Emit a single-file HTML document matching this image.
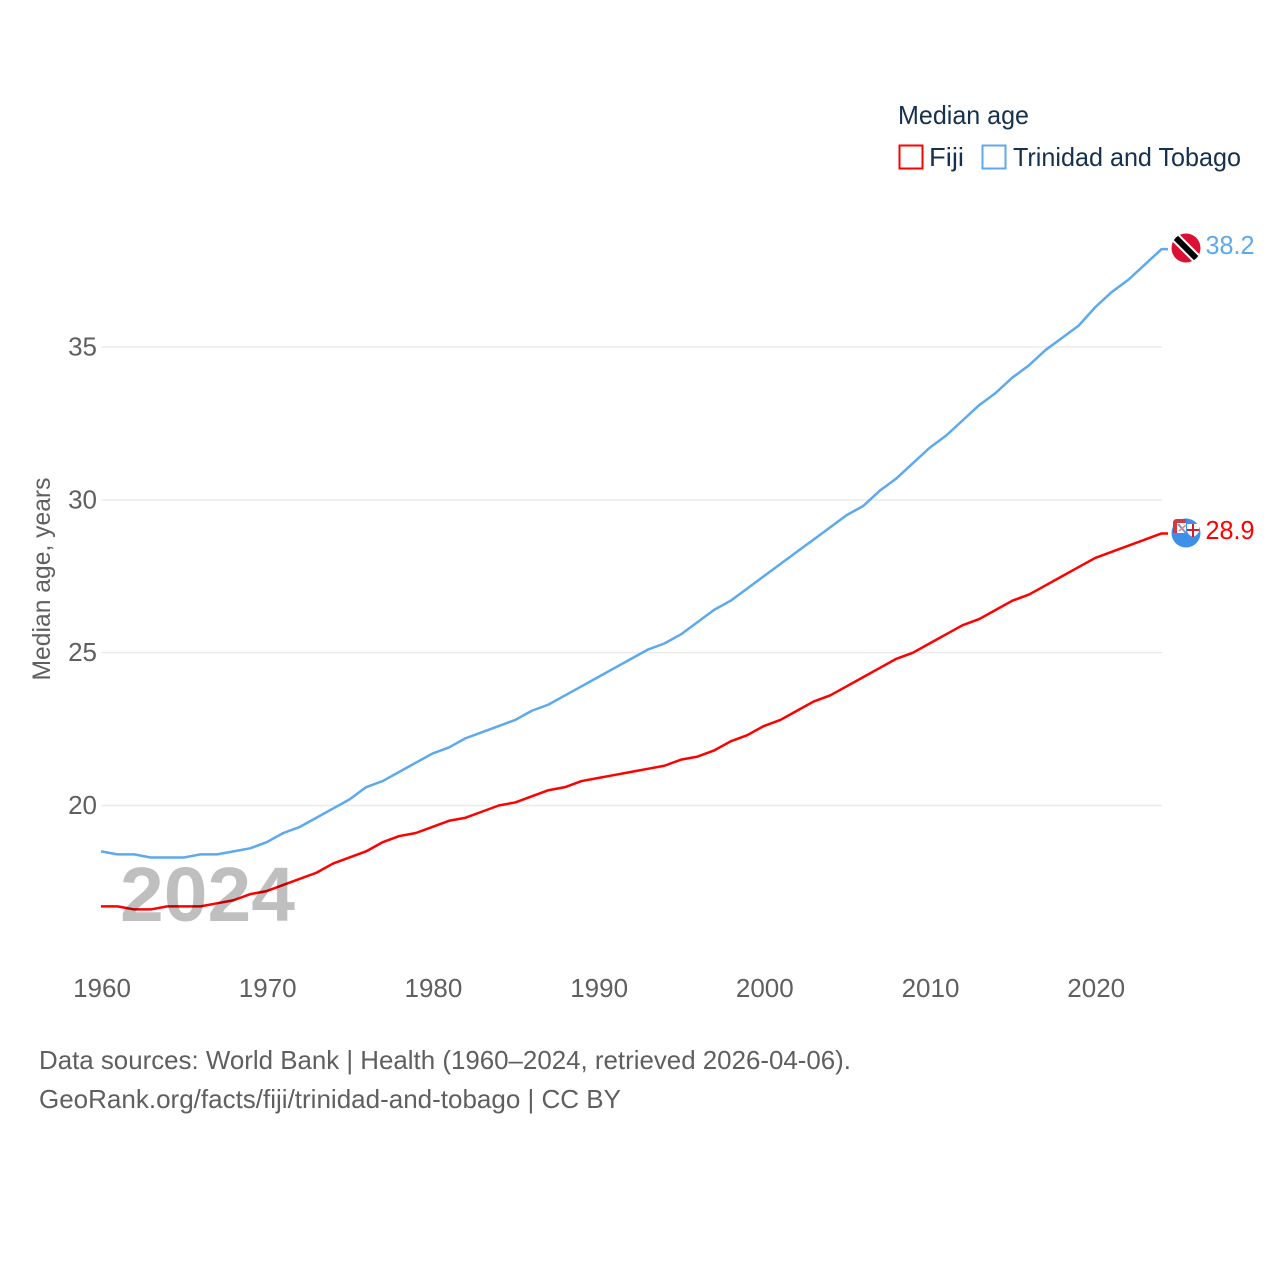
<!DOCTYPE html>
<html><head><meta charset="utf-8"><title>Median age</title>
<style>
html,body{margin:0;padding:0;background:#fff;width:1280px;height:1280px;overflow:hidden}
svg{display:block;font-family:"Liberation Sans",sans-serif}
</style></head>
<body>
<svg id="chart" width="1280" height="1280" viewBox="0 0 1280 1280">
<defs>
<clipPath id="tt-clip"><circle cx="1186" cy="248" r="14.5"/></clipPath>
<clipPath id="fj-clip"><circle cx="1186" cy="533" r="14.5"/></clipPath>
</defs>
<g id="grid"></g>
<g id="yticks"></g>
<g id="xticks"></g>
<text x="50" y="579" transform="rotate(-90 50 579)" text-anchor="middle" font-size="25" fill="#5f5f5f" textLength="203" lengthAdjust="spacingAndGlyphs">Median age, years</text>
<g id="lines"></g>
<text x="120" y="921" font-size="77" font-weight="bold" fill="#000" fill-opacity="0.25" textLength="175" lengthAdjust="spacingAndGlyphs">2024</text>

<text x="898" y="124" font-size="26" fill="#16304f" textLength="131" lengthAdjust="spacingAndGlyphs">Median age</text>
<g>
<rect x="899.5" y="145.5" width="23" height="23" fill="none" stroke="#ff0000" stroke-width="2"/>
<text x="929" y="166" font-size="26" fill="#16304f" textLength="35" lengthAdjust="spacingAndGlyphs">Fiji</text>
</g>
<g>
<rect x="982.5" y="145.5" width="23" height="23" fill="none" stroke="#5ca9ee" stroke-width="2"/>
<text x="1013" y="166" font-size="26" fill="#16304f" textLength="228" lengthAdjust="spacingAndGlyphs">Trinidad and Tobago</text>
</g>

<g clip-path="url(#tt-clip)">
<rect x="1170" y="232" width="32" height="32" fill="#da1035"/>
<line x1="1170" y1="232" x2="1202" y2="264" stroke="#fff" stroke-width="10"/>
<line x1="1170" y1="232" x2="1202" y2="264" stroke="#000" stroke-width="6"/>
</g>
<g>
<circle cx="1186" cy="533" r="14.5" fill="#3d8fe8"/>
<path d="M1173 533v-10q0-4 4-4h9v14z" fill="#d23a3f"/>
<rect x="1177" y="523" width="9" height="10" fill="#fff"/>
<line x1="1178" y1="524" x2="1186" y2="533" stroke="#7f8fc0" stroke-width="2"/>
<line x1="1179" y1="531" x2="1186" y2="525" stroke="#d98a8a" stroke-width="1.5"/>
<path d="M1187 524h12v7q-1 4-6 6q-5-2-6-6z" fill="#fff"/>
<rect x="1192" y="524" width="2" height="13" fill="#d0202f"/>
<rect x="1187" y="529" width="12" height="2" fill="#d0202f"/>
</g>
<text x="1205.5" y="254" font-size="26" fill="#5ca9ee" textLength="49" lengthAdjust="spacingAndGlyphs">38.2</text>
<text x="1205.5" y="539" font-size="26" fill="#ff0000" textLength="49" lengthAdjust="spacingAndGlyphs">28.9</text>

<text x="39" y="1069" font-size="26" fill="#5f5f5f" textLength="812" lengthAdjust="spacingAndGlyphs">Data sources: World Bank | Health (1960–2024, retrieved 2026-04-06).</text>
<text x="39" y="1108" font-size="26" fill="#5f5f5f" textLength="582" lengthAdjust="spacingAndGlyphs">GeoRank.org/facts/fiji/trinidad-and-tobago | CC BY</text>
</svg>
<script>
const startYear = 1960;
const yTickValues = [20, 25, 30, 35];
const xTickValues = [1960, 1970, 1980, 1990, 2000, 2010, 2020];
const fijiValues = [16.7,16.7,16.6,16.6,16.7,16.7,16.7,16.8,16.9,17.1,17.2,17.4,17.6,17.8,18.1,18.3,18.5,18.8,19.0,19.1,19.3,19.5,19.6,19.8,20.0,20.1,20.3,20.5,20.6,20.8,20.9,21.0,21.1,21.2,21.3,21.5,21.6,21.8,22.1,22.3,22.6,22.8,23.1,23.4,23.6,23.9,24.2,24.5,24.8,25.0,25.3,25.6,25.9,26.1,26.4,26.7,26.9,27.2,27.5,27.8,28.1,28.3,28.5,28.7,28.9];
const trinidadValues = [18.5,18.4,18.4,18.3,18.3,18.3,18.4,18.4,18.5,18.6,18.8,19.1,19.3,19.6,19.9,20.2,20.6,20.8,21.1,21.4,21.7,21.9,22.2,22.4,22.6,22.8,23.1,23.3,23.6,23.9,24.2,24.5,24.8,25.1,25.3,25.6,26.0,26.4,26.7,27.1,27.5,27.9,28.3,28.7,29.1,29.5,29.8,30.3,30.7,31.2,31.7,32.1,32.6,33.1,33.5,34.0,34.4,34.9,35.3,35.7,36.3,36.8,37.2,37.7,38.2];

const NS = 'http://www.w3.org/2000/svg';
function xScale(year){ return 101 + (year - 1960) * (1161.5 - 101) / 64; }
function yScale(v){ return 805.5 - (v - 20) * (805.5 - 347) / 15; }

const grid = document.getElementById('grid');
const yticks = document.getElementById('yticks');
const xticks = document.getElementById('xticks');
const lines = document.getElementById('lines');

yTickValues.forEach(function(v){
  const l = document.createElementNS(NS, 'line');
  
  
  l.setAttribute('x1', 101);
  l.setAttribute('x2', 1162);
  l.setAttribute('y1', yScale(v));
  l.setAttribute('y2', yScale(v));
  l.setAttribute('stroke', '#ebebeb');
  l.setAttribute('stroke-width', 1.5);
  grid.appendChild(l);
  const t = document.createElementNS(NS, 'text');
  
  
  t.setAttribute('x', 97);
  t.setAttribute('y', yScale(v) + 8.5);
  t.setAttribute('text-anchor', 'end');
  t.setAttribute('font-size', 26);
  t.setAttribute('fill', '#5f5f5f');
  t.textContent = v;
  yticks.appendChild(t);
});

xTickValues.forEach(function(y){
  const t = document.createElementNS(NS, 'text');
  
  
  t.setAttribute('x', xScale(y) + 1);
  t.setAttribute('y', 997);
  t.setAttribute('text-anchor', 'middle');
  t.setAttribute('font-size', 26);
  t.setAttribute('fill', '#5f5f5f');
  t.textContent = y;
  xticks.appendChild(t);
});

function drawSeries(values, color, name){
  const pts = values.map(function(v, i){ return xScale(startYear + i) + ',' + yScale(v); });
  const last = values[values.length - 1];
  pts.push((xScale(startYear + values.length - 1) + 6.5) + ',' + yScale(last));
  const p = document.createElementNS(NS, 'polyline');
  
  
  p.setAttribute('points', pts.join(' '));
  p.setAttribute('fill', 'none');
  p.setAttribute('stroke', color);
  p.setAttribute('stroke-width', 2.5);
  p.setAttribute('stroke-linejoin', 'round');
  lines.appendChild(p);
}
drawSeries(fijiValues, '#ff0000', 'fiji-line');
drawSeries(trinidadValues, '#5ca9ee', 'trinidad-and-tobago-line');
</script>
</body></html>
